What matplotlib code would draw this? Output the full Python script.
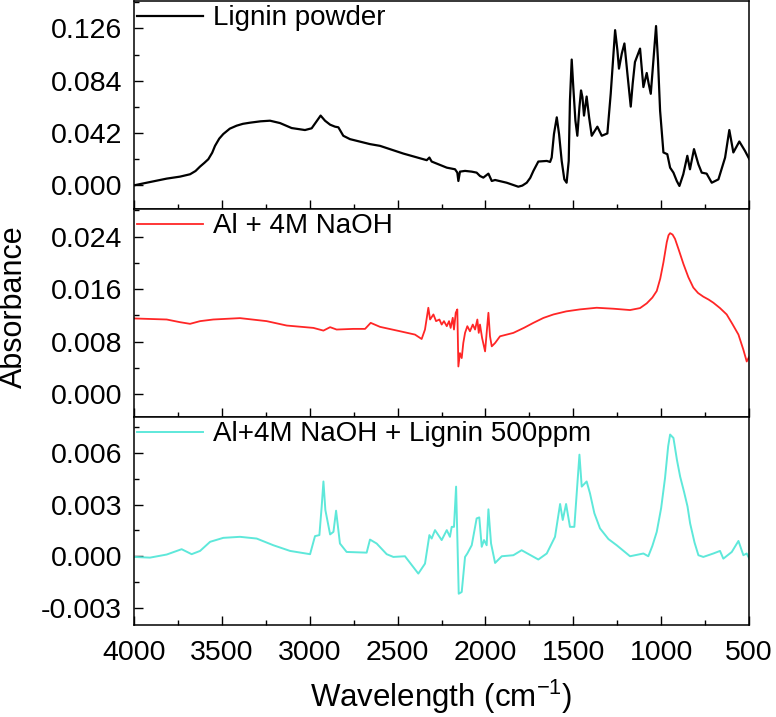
import matplotlib
matplotlib.use("Agg")
import matplotlib.pyplot as plt
from matplotlib.ticker import MultipleLocator, FormatStrFormatter

plt.rcParams["font.family"] = ["Liberation Sans", "DejaVu Sans"]
plt.rcParams["mathtext.fontset"] = "custom"
plt.rcParams["mathtext.rm"] = "Liberation Sans"
plt.rcParams["mathtext.default"] = "regular"

# --- Lignin powder (wavenumber, absorbance) ---
lig_wn = [4000, 3928, 3814, 3738, 3681, 3650, 3624, 3600, 3577, 3555, 3539, 3515,
          3492, 3455, 3416, 3380, 3340, 3280, 3226, 3169, 3103, 3027, 2989, 2938,
          2913, 2884, 2856, 2837, 2809, 2771, 2657, 2600, 2467, 2334, 2319, 2306,
          2220, 2173, 2160, 2154, 2145, 2116, 2078, 2050, 2031, 2012, 1983, 1964,
          1945, 1879, 1813, 1790, 1765, 1745, 1727, 1699, 1651, 1632, 1623, 1610,
          1594, 1581, 1566, 1551, 1538, 1526, 1519, 1509, 1500, 1488, 1477, 1465,
          1456, 1448, 1439, 1424, 1410, 1395, 1363, 1338, 1306, 1287, 1262, 1249,
          1240, 1224, 1209, 1192, 1173, 1162, 1149, 1120, 1111, 1101, 1082, 1071,
          1059, 1044, 1029, 1018, 1006, 987, 965, 949, 930, 911, 896, 874, 851, 836,
          813, 788, 769, 741, 712, 674, 636, 612, 589, 555, 523, 498]
lig_ab = [0.0000, 0.0021, 0.0054, 0.0070, 0.0089, 0.0115, 0.0151, 0.0180, 0.0210,
          0.0262, 0.0317, 0.0375, 0.0412, 0.0455, 0.0479, 0.0494, 0.0503, 0.0514,
          0.0519, 0.0500, 0.0460, 0.0444, 0.0458, 0.0560, 0.0519, 0.0487, 0.0471,
          0.0466, 0.0398, 0.0371, 0.0331, 0.0317, 0.0255, 0.0202, 0.0223, 0.0191,
          0.0142, 0.0129, 0.0102, 0.0035, 0.0110, 0.0116, 0.0110, 0.0102, 0.0075,
          0.0062, 0.0094, 0.0035, 0.0043, 0.0021, -0.0011, -0.0002, 0.0021, 0.0060,
          0.0116, 0.0191, 0.0196, 0.0188, 0.0223, 0.0412, 0.0546, 0.0412, 0.0196,
          0.0048, 0.0021, 0.0196, 0.0680, 0.1010, 0.0790, 0.0520, 0.0398, 0.0627,
          0.0762, 0.0708, 0.0560, 0.0713, 0.0546, 0.0398, 0.0471, 0.0398, 0.0417,
          0.0735, 0.1246, 0.1085, 0.0937, 0.1058, 0.1139, 0.0896, 0.0632, 0.0816,
          0.0990, 0.1098, 0.0950, 0.0789, 0.0902, 0.0816, 0.0735, 0.1004, 0.1279,
          0.1004, 0.0600, 0.0264, 0.0250, 0.0142, 0.0102, 0.0035, -0.0005, 0.0089,
          0.0237, 0.0129, 0.0291, 0.0169, 0.0102, 0.0094, 0.0021, 0.0048, 0.0223,
          0.0444, 0.0264, 0.0352, 0.0277, 0.0210]

# --- Al + 4M NaOH ---
naoh_wn = [4000, 3814, 3738, 3681, 3624, 3549, 3397, 3245, 3131, 2979, 2922, 2884,
           2847, 2752, 2685, 2653, 2600, 2486, 2401, 2363, 2344, 2325, 2315, 2296,
           2281, 2262, 2249, 2236, 2220, 2207, 2198, 2186, 2179, 2169, 2160, 2154,
           2145, 2135, 2126, 2116, 2103, 2088, 2072, 2059, 2046, 2038, 2031, 2019,
           2002, 1993, 1983, 1974, 1964, 1945, 1917, 1841, 1780, 1727, 1670, 1613,
           1540, 1462, 1367, 1270, 1177, 1120, 1082, 1050, 1025, 1005, 987, 968, 958,
           949, 935, 921, 900, 873, 845, 817, 790, 760, 730, 703, 665, 627, 595, 560,
           532, 513, 498]
naoh_ab = [0.01152, 0.01136, 0.01095, 0.01070, 0.01111, 0.01136, 0.01157, 0.01111,
           0.01044, 0.01008, 0.00967, 0.01019, 0.00983, 0.00993, 0.00993, 0.01085,
           0.01024, 0.00957, 0.00906, 0.00839, 0.00983, 0.01315, 0.01136, 0.01213,
           0.01111, 0.01136, 0.01059, 0.01111, 0.01034, 0.01111, 0.01008, 0.01162,
           0.00983, 0.01239, 0.01290, 0.00420, 0.00624, 0.00548, 0.00778, 0.00932,
           0.01034, 0.00957, 0.01059, 0.00983, 0.01136, 0.00932, 0.01059, 0.00855,
           0.00650, 0.00932, 0.01239, 0.00880, 0.00727, 0.00778, 0.00880, 0.00932,
           0.01010, 0.01085, 0.01160, 0.01213, 0.01260, 0.01290, 0.01315, 0.01300,
           0.01280, 0.01310, 0.01382, 0.01470, 0.01571, 0.01760, 0.02006, 0.02314,
           0.02420, 0.02452, 0.02430, 0.02365, 0.02200, 0.01981, 0.01780, 0.01623,
           0.01540, 0.01484, 0.01440, 0.01392, 0.01310, 0.01213, 0.01070, 0.00906,
           0.00675, 0.00496, 0.00573]

# --- Al + 4M NaOH + Lignin 500ppm ---
mix_wn = [4000, 3909, 3814, 3729, 3672, 3624, 3567, 3492, 3397, 3302, 3207, 3112,
          2998, 2970, 2945, 2932, 2922, 2911, 2884, 2865, 2850, 2828, 2790, 2676,
          2657, 2619, 2562, 2524, 2458, 2382, 2344, 2319, 2306, 2287, 2249, 2220,
          2202, 2192, 2179, 2167, 2152, 2135, 2116, 2103, 2078, 2050, 2035, 2021,
          2008, 1993, 1983, 1968, 1945, 1907, 1841, 1794, 1699, 1651, 1604, 1575,
          1560, 1541, 1519, 1494, 1465, 1452, 1424, 1405, 1380, 1348, 1300, 1253,
          1177, 1101, 1073, 1050, 1025, 1000, 978, 960, 949, 930, 910, 892, 870, 850,
          835, 810, 788, 760, 703, 665, 646, 598, 560, 532, 513, 498]
mix_ab = [-0.00004, -0.00008, 0.00010, 0.00041, 0.00012, 0.00031, 0.00084, 0.00107,
          0.00113, 0.00103, 0.00064, 0.00031, 0.00012, 0.00117, 0.00123, 0.00288,
          0.00435, 0.00269, 0.00127, 0.00142, 0.00265, 0.00074, 0.00025, 0.00021,
          0.00097, 0.00074, 0.00012, -0.00004, 0.00000, -0.00101, -0.00043, 0.00123,
          0.00103, 0.00152, 0.00094, 0.00152, 0.00113, 0.00171, 0.00171, 0.00405,
          -0.00218, -0.00208, -0.00004, 0.00016, 0.00064, 0.00220, 0.00226, 0.00055,
          0.00094, 0.00064, 0.00273, 0.00074, -0.00039, 0.00000, 0.00006, 0.00035,
          -0.00019, 0.00016, 0.00113, 0.00304, 0.00211, 0.00304, 0.00171, 0.00171,
          0.00591, 0.00405, 0.00435, 0.00366, 0.00250, 0.00162, 0.00100, 0.00064,
          0.00000, 0.00016, 0.00000, 0.00060, 0.00142, 0.00280, 0.00454, 0.00640,
          0.00708, 0.00688, 0.00560, 0.00464, 0.00376, 0.00290, 0.00191, 0.00080,
          0.00006, -0.00004, 0.00016, 0.00031, -0.00014, 0.00025, 0.00089, 0.00006,
          0.00016, -0.00014]

panels = [
    (lig_wn, lig_ab, "black", 1.6, "Lignin powder", (-0.019, 0.148), 0.042),
    (naoh_wn, naoh_ab, "#ff2626", 1.3, "Al + 4M NaOH", (-0.0035, 0.0282), 0.008),
    (mix_wn, mix_ab, "#5ee8da", 1.4, "Al+4M NaOH + Lignin 500ppm", (-0.0040, 0.0081), 0.003),
]

fig, axes = plt.subplots(3, 1, figsize=(7.76, 7.17), dpi=100, sharex=True,
                         gridspec_kw=dict(hspace=0))
fig.subplots_adjust(left=0.1727, right=0.9652, top=0.9986, bottom=0.1283)

for ax, (wn, ab, color, lw, label, ylim, step) in zip(axes, panels):
    ax.plot(wn, ab, color=color, lw=lw, label=label)
    ax.set_xlim(4000, 500)
    ax.set_ylim(*ylim)
    ax.yaxis.set_major_locator(MultipleLocator(step))
    ax.yaxis.set_minor_locator(MultipleLocator(step / 2))
    ax.yaxis.set_major_formatter(FormatStrFormatter("%.3f"))
    ax.xaxis.set_major_locator(MultipleLocator(500))
    ax.xaxis.set_minor_locator(MultipleLocator(250))
    ax.tick_params(which="both", direction="in", top=False, right=False,
                   width=1.0, labelsize=20.5)
    ax.tick_params(which="major", length=6.5)
    ax.tick_params(which="minor", length=3.5)
    ax.tick_params(axis="y", pad=8.5)
    ax.tick_params(axis="x", pad=11)
    for s in ax.spines.values():
        s.set_linewidth(1.1)
    ax.legend(loc="upper left", bbox_to_anchor=(0, 0.993), borderaxespad=0,
              borderpad=0.1, frameon=False, fontsize=20, handlelength=2.4,
              handletextpad=0.36)

axes[2].set_xlabel("Wavelength (cm$^{-1}$)", fontsize=22.5, labelpad=8)
fig.text(0.018, 0.572, "Absorbance", rotation=90, fontsize=22,
         ha="center", va="center")

fig.savefig("out.png", dpi=100)
